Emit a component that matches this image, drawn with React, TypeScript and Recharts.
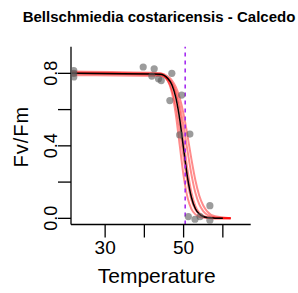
import React from 'react';
import { ComposedChart, Line, Scatter, XAxis, YAxis, ReferenceLine } from 'recharts';

// observed Fv/Fm readings
const obsTemp = [22, 22, 22, 39.7, 41.9, 42.5, 43.6, 44.3, 47, 46.5, 49.5, 49, 51.6, 51.2, 52.9, 54.2, 56.7, 56.7];
const obsFvFm = [0.78, 0.8, 0.815, 0.835, 0.785, 0.825, 0.77, 0.76, 0.8, 0.65, 0.68, 0.46, 0.465, 0.01, -0.005, 0.01, 0.07, -0.01];

// fitted curve
const fitTemp = [21.5, 44, 46, 47, 48, 49, 50, 51, 52, 53, 54, 55, 56, 58, 60];
const fitFvFm = [0.8, 0.795, 0.771, 0.737, 0.667, 0.548, 0.383, 0.225, 0.115, 0.053, 0.024, 0.01, 0.004, 0.001, 0.0];

// bootstrap curves
const bootTemp = [21.5, 44, 46, 47, 48, 49, 50, 51, 52, 53, 54, 55, 56, 58, 62];
const boot1 = [0.81, 0.801, 0.759, 0.695, 0.575, 0.405, 0.234, 0.115, 0.051, 0.022, 0.009, 0.004, 0.002, 0.0, 0.0];
const boot2 = [0.8, 0.791, 0.758, 0.711, 0.626, 0.494, 0.337, 0.197, 0.102, 0.049, 0.023, 0.01, 0.005, 0.001, 0.0];
const boot3 = [0.79, 0.786, 0.768, 0.741, 0.685, 0.581, 0.428, 0.266, 0.141, 0.067, 0.03, 0.013, 0.006, 0.001, 0.0];
const boot4 = [0.8, 0.793, 0.773, 0.748, 0.701, 0.623, 0.509, 0.372, 0.241, 0.141, 0.077, 0.04, 0.02, 0.005, 0.001];
const boot5 = [0.805, 0.799, 0.782, 0.762, 0.725, 0.665, 0.575, 0.455, 0.325, 0.21, 0.125, 0.071, 0.039, 0.011, 0.001];
const bootSets = [boot1, boot2, boot3, boot4, boot5];

const t50 = 50.4;

const xTicks = [30, 40, 50, 60];
const xLabels = [30, 50];
const yTicks = [0, 0.2, 0.4, 0.6, 0.8];
const yLabels = [0, 0.4, 0.8];

const obsData = obsTemp.map((t, i) => ({ x: t, y: obsFvFm[i] }));
const fitData = fitTemp.map((t, i) => ({ x: t, y: fitFvFm[i] }));
const bootData = bootSets.map((s) => bootTemp.map((t, i) => ({ x: t, y: s[i] })));

const font = 'Liberation Sans, Arial, sans-serif';

const XTick = (props: any) => {
  const { payload } = props;
  if (!xLabels.includes(payload.value)) return null;
  return (
    <text x={props.x} y={254} textAnchor="middle" fontSize={19} fontFamily={font} fill="#000">
      {payload.value}
    </text>
  );
};

const YTick = (props: any) => {
  const { y, payload } = props;
  if (!yLabels.some((v) => Math.abs(v - payload.value) < 1e-9)) return null;
  return (
    <text x={57} y={y} transform={`rotate(-90 57 ${y})`} textAnchor="middle" fontSize={18} fontFamily={font} fill="#000">
      {payload.value.toFixed(1)}
    </text>
  );
};

const Dot = (p: any) => <circle cx={p.cx} cy={p.cy} r={3.6} fill="#5a5a5a" fillOpacity={0.6} />;

export default function App() {
  return (
    <div style={{ position: 'absolute', left: 0, top: 0, width: 298, height: 293, background: '#fff' }}>
      <ComposedChart width={298} height={293} margin={{ top: 46.7, right: 47.3, bottom: 38.5, left: 41 }}>
        <XAxis
          type="number"
          dataKey="x"
          domain={[21.3, 67.1]}
          ticks={xTicks}
          tick={<XTick />}
          tickSize={13}
          height={30}
          allowDataOverflow
          stroke="#000"
          strokeWidth={1.3}
        />
        <YAxis
          type="number"
          dataKey="y"
          domain={[-0.034, 0.947]}
          ticks={yTicks}
          tick={<YTick />}
          tickSize={13}
          width={30}
          allowDataOverflow
          stroke="#000"
          strokeWidth={1.3}
        />
        {bootData.map((d, i) => (
          <Line
            key={i}
            data={d}
            dataKey="y"
            type="monotone"
            stroke="#ff0000"
            strokeOpacity={0.45}
            strokeWidth={2}
            dot={false}
            isAnimationActive={false}
          />
        ))}
        <Scatter data={obsData} dataKey="y" shape={<Dot />} isAnimationActive={false} />
        <Line data={fitData} dataKey="y" type="monotone" stroke="#000" strokeWidth={1.5} dot={false} isAnimationActive={false} />
        <ReferenceLine x={t50} stroke="#a020f0" strokeWidth={1.5} strokeDasharray="4 4" />
      </ComposedChart>
      <svg width={298} height={293} style={{ position: 'absolute', left: 0, top: 0, pointerEvents: 'none' }}>
        <text x={159} y={21.5} textAnchor="middle" fontSize={15} fontWeight="bold" fontFamily={font} fill="#000">
          Bellschmiedia costaricensis - Calcedo
        </text>
        <text x={156.7} y={283} textAnchor="middle" fontSize={21} fontFamily={font} fill="#000">
          Temperature
        </text>
        <text x={28} y={136.7} transform="rotate(-90 28 136.7)" textAnchor="middle" fontSize={20} letterSpacing={1} fontFamily={font} fill="#000">
          Fv/Fm
        </text>
      </svg>
    </div>
  );
}
